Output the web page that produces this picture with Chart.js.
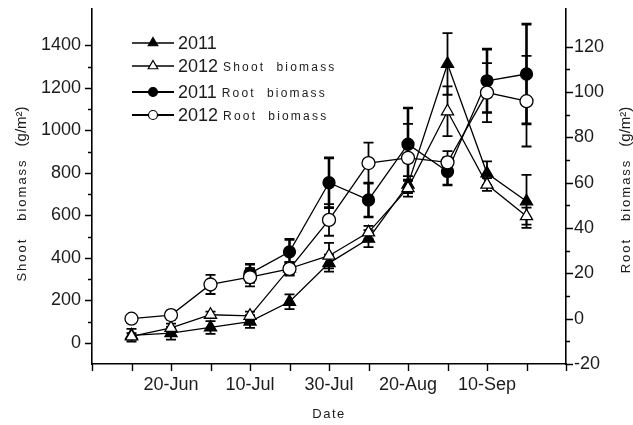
<!DOCTYPE html>
<html>
<head>
<meta charset="utf-8">
<script src="https://cdn.jsdelivr.net/npm/chart.js@4/dist/chart.umd.min.js"></script>
<style>
  body { margin: 0; background: #fff; }
  canvas { display: block; }
</style>
</head>
<body>
<canvas id="chart" width="633" height="425"></canvas>
<script>
// sampling dates, every 10 days (x = 1 .. 11 on the date axis)
const sampleDates = ['10-Jun', '20-Jun', '30-Jun', '10-Jul', '20-Jul', '30-Jul', '9-Aug', '20-Aug', '30-Aug', '10-Sep', '20-Sep'];
const tickDates = ['20-Jun', '10-Jul', '30-Jul', '20-Aug', '10-Sep'];

// shoot biomass, g/m2 (left axis)
const shoot2011 = [35, 45, 72, 100, 193, 375, 490, 745, 1313, 798, 666];
const shoot2011Err = [30, 30, 30, 30, 35, 40, 40, 40, 145, 56, 125];
const shoot2012 = [30, 70, 132, 127, 350, 410, 520, 728, 1090, 745, 596];
const shoot2012Err = [15, 20, 15, 20, 30, 60, 30, 40, 117, 30, 40];

// root biomass, g/m2 (right axis)
const root2011 = [null, null, null, 20, 29.5, 60, 52.4, 77, 65, 105, 108];
const root2011Err = [0, 0, 0, 4, 5.5, 11, 7.5, 16, 6, 14, 22];
const root2012 = [0, 1.6, 15.1, 18.3, 22, 43.6, 68.7, 71, 69, 99.8, 96];
const root2012Err = [0, 2, 4.2, 4, 3, 7, 9, 15, 5, 13, 20];

const shootTicks = [0, 200, 400, 600, 800, 1000, 1200, 1400];
const rootTicks = [-20, 0, 20, 40, 60, 80, 100, 120];

const FONT = "'Liberation Sans', Arial, sans-serif";
const INK = '#000';
const TEXT = '#1c1c1c';

const toPoints = arr => arr.map((v, i) => ({ x: i + 1, y: v }));

const errorSets = [root2012Err, shoot2012Err, root2011Err, shoot2011Err];
const errorWidths = [1.8, 1.8, 2.6, 1.8];

function series(label, values, axis, style, filled, radius, order) {
	return {
		label: label,
		data: toPoints(values),
		yAxisID: axis,
		borderColor: INK,
		borderWidth: 1.3,
		pointStyle: style,
		pointRadius: radius,
		pointHoverRadius: radius,
		pointBackgroundColor: filled ? INK : '#fff',
		pointBorderColor: INK,
		pointBorderWidth: 1.3,
		tension: 0,
		spanGaps: false,
		order: order
	};
}

function noPad(s) {
	s.paddingTop = 0;
	s.paddingBottom = 0;
}

const errorBars = {
	id: 'errorBars',
	beforeDatasetsDraw(chart) {
		const ctx = chart.ctx;
		const xs = chart.scales.x;
		ctx.save();
		ctx.strokeStyle = INK;
		chart.data.datasets.forEach(function (ds, di) {
			const err = errorSets[di];
			const ys = chart.scales[ds.yAxisID];
			ctx.lineWidth = errorWidths[di];
			ds.data.forEach(function (p, i) {
				if (p.y == null || !err[i]) {
					return;
				}
				const px = xs.getPixelForValue(p.x);
				const top = ys.getPixelForValue(p.y + err[i]);
				const bot = ys.getPixelForValue(p.y - err[i]);
				ctx.beginPath();
				ctx.moveTo(px, top);
				ctx.lineTo(px, bot);
				ctx.moveTo(px - 5, top);
				ctx.lineTo(px + 5, top);
				ctx.moveTo(px - 5, bot);
				ctx.lineTo(px + 5, bot);
				ctx.stroke();
			});
		});
		ctx.restore();
	}
};

const axisDecor = {
	id: 'axisDecor',
	afterDraw(chart) {
		const ctx = chart.ctx;
		const area = chart.chartArea;
		const xs = chart.scales.x;
		const yl = chart.scales.yShoot;
		const yr = chart.scales.yRoot;
		ctx.save();
		ctx.strokeStyle = INK;
		ctx.lineWidth = 1.4;
		ctx.beginPath();
		xs.ticks.forEach(function (t) {
			const px = Math.round(xs.getPixelForValue(t.value)) + 0.5;
			ctx.moveTo(px, area.bottom);
			ctx.lineTo(px, area.bottom + 7);
		});
		yl.ticks.forEach(function (t) {
			const py = Math.round(yl.getPixelForValue(t.value)) + 0.5;
			const len = t.value % 200 === 0 ? 7 : 4;
			ctx.moveTo(area.left - len, py);
			ctx.lineTo(area.left, py);
		});
		yr.ticks.forEach(function (t) {
			const py = Math.round(yr.getPixelForValue(t.value)) + 0.5;
			const len = t.value % 20 === 0 ? 7 : 4;
			ctx.moveTo(area.right, py);
			ctx.lineTo(area.right + len, py);
		});
		ctx.stroke();

		// axis titles
		ctx.fillStyle = TEXT;
		ctx.textBaseline = 'middle';
		function vertTitle(x, y, name) {
			ctx.save();
			ctx.translate(x, y);
			ctx.rotate(-Math.PI / 2);
			ctx.font = '13px ' + FONT;
			ctx.letterSpacing = '2px';
			const w1 = ctx.measureText(name).width;
			ctx.letterSpacing = '0px';
			ctx.font = '15px ' + FONT;
			const unit = '(g/m\u00b2)';
			const w2 = ctx.measureText(unit).width;
			const gap = 12;
			let sx = -(w1 + gap + w2) / 2;
			ctx.textAlign = 'left';
			ctx.font = '13px ' + FONT;
			ctx.letterSpacing = '2px';
			ctx.fillText(name, sx, 0);
			ctx.letterSpacing = '0px';
			ctx.font = '15px ' + FONT;
			ctx.fillText(unit, sx + w1 + gap, 0);
			ctx.restore();
		}
		vertTitle(22, 194, 'Shoot   biomass');
		vertTitle(626, 190, 'Root   biomass');

		ctx.font = '13px ' + FONT;
		ctx.letterSpacing = '1.5px';
		ctx.textAlign = 'center';
		ctx.fillText('Date', 329, 414);
		ctx.letterSpacing = '0px';

		// legend
		const rows = [43, 66, 92, 115];
		const legendOrder = [3, 1, 2, 0];
		legendOrder.forEach(function (di, r) {
			const ds = chart.data.datasets[di];
			const y = rows[r];
			ctx.strokeStyle = INK;
			ctx.lineWidth = r < 2 ? 1.4 : 2.2;
			ctx.beginPath();
			ctx.moveTo(132, y);
			ctx.lineTo(174, y);
			ctx.stroke();
			ctx.fillStyle = ds.pointBackgroundColor;
			ctx.lineWidth = 1.2;
			Chart.helpers.drawPoint(ctx, {
				pointStyle: ds.pointStyle,
				radius: ds.pointStyle === 'triangle' ? 5.5 : 4.5,
				rotation: 0,
				borderWidth: 1.2
			}, 153, y);
			const parts = ds.label.split(' ');
			const year = parts.shift();
			const rest = parts.join('  ');
			ctx.fillStyle = TEXT;
			ctx.textAlign = 'left';
			ctx.font = '18px ' + FONT;
			ctx.fillText(year, 178, y + 1);
			const yw = ctx.measureText(year).width;
			if (rest) {
				ctx.font = '12px ' + FONT;
				ctx.letterSpacing = '2.2px';
				ctx.fillText(rest, 178 + yw + 5, y + 2);
				ctx.letterSpacing = '0px';
			}
		});
		ctx.restore();
	}
};

const tickFont = { family: FONT, size: 18 };

new Chart(document.getElementById('chart').getContext('2d'), {
	type: 'line',
	data: {
		datasets: [
			series('2012 Root biomass', root2012, 'yRoot', 'circle', false, 6.5, 0),
			series('2012 Shoot biomass', shoot2012, 'yShoot', 'triangle', false, 7, 1),
			series('2011 Root biomass', root2011, 'yRoot', 'circle', true, 6, 2),
			series('2011', shoot2011, 'yShoot', 'triangle', true, 7, 3)
		]
	},
	options: {
		responsive: false,
		animation: false,
		layout: { padding: { top: 8, left: 0, right: 0, bottom: 0 } },
		plugins: {
			legend: { display: false },
			tooltip: { enabled: false },
			title: { display: false }
		},
		scales: {
			x: {
				type: 'linear',
				min: 0,
				max: 12,
				grid: { display: false, drawTicks: false, tickLength: 0 },
				border: { display: true, color: INK, width: 1.6 },
				ticks: {
					stepSize: 1,
					autoSkip: false,
					maxRotation: 0,
					padding: 10,
					color: TEXT,
					font: tickFont,
					callback: function (v) {
						const d = sampleDates[v - 1];
						return tickDates.includes(d) ? d : '';
					}
				},
				afterFit: function (s) {
					s.height = 61;
					s.paddingLeft = 0;
					s.paddingRight = 0;
				}
			},
			yShoot: {
				type: 'linear',
				position: 'left',
				min: -100,
				max: 1575,
				grid: { display: false, drawTicks: false, tickLength: 0 },
				border: { display: true, color: INK, width: 1.6 },
				ticks: {
					stepSize: 100,
					autoSkip: false,
					padding: 11,
					color: TEXT,
					font: tickFont,
					callback: function (v) { return shootTicks.includes(v) ? String(v) : ''; }
				},
				afterBuildTicks: function (s) {
					s.ticks = s.ticks.filter(function (t) { return t.value >= 0 && t.value <= 1500; });
				},
				afterFit: function (s) {
					s.width = 92;
					noPad(s);
				}
			},
			yRoot: {
				type: 'linear',
				position: 'right',
				min: -20,
				max: 137,
				grid: { display: false, drawTicks: false, tickLength: 0 },
				border: { display: true, color: INK, width: 1.6 },
				ticks: {
					stepSize: 10,
					autoSkip: false,
					padding: 8,
					color: TEXT,
					font: tickFont,
					callback: function (v) { return rootTicks.includes(v) ? String(v) : ''; }
				},
				afterBuildTicks: function (s) {
					s.ticks = s.ticks.filter(function (t) { return t.value <= 130; });
				},
				afterFit: function (s) {
					s.width = 67;
					noPad(s);
				}
			}
		}
	},
	plugins: [errorBars, axisDecor]
});
</script>
</body>
</html>
